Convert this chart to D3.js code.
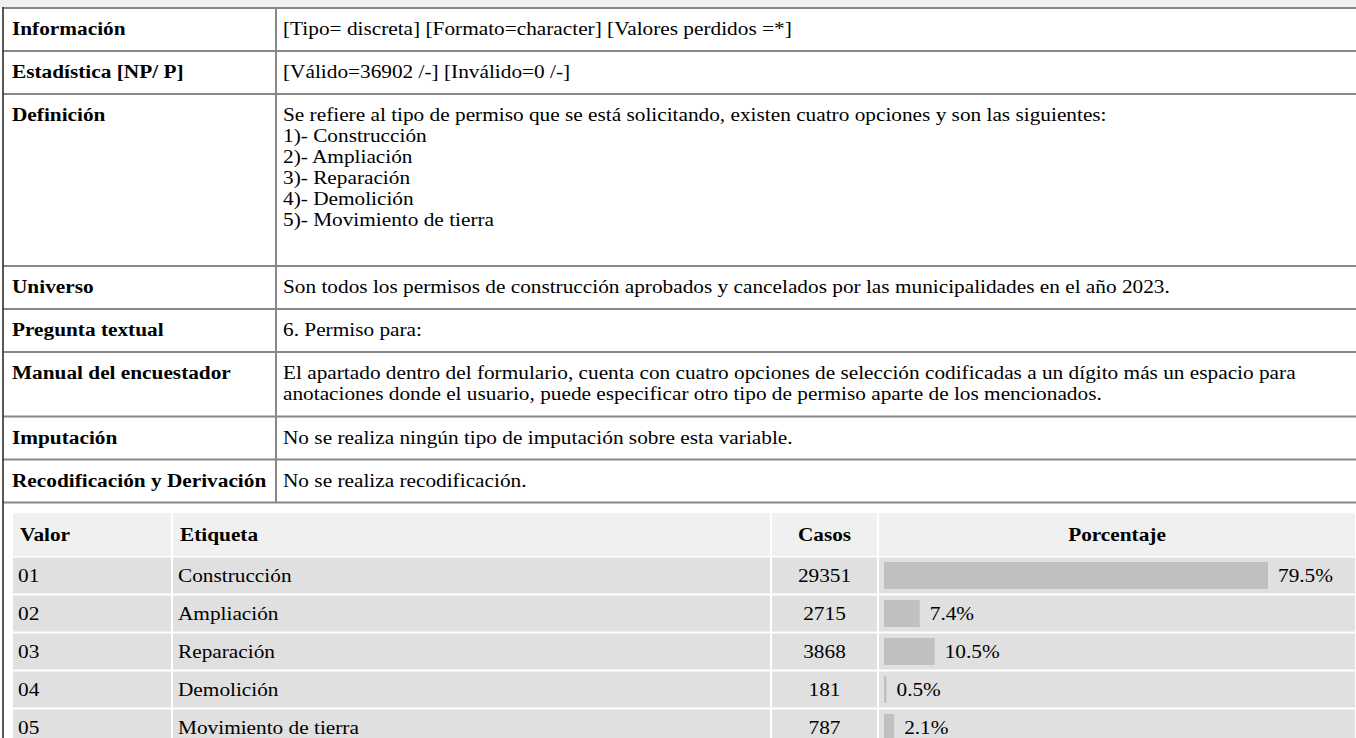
<!DOCTYPE html>
<html><head><meta charset="utf-8">
<script src="https://cdn.jsdelivr.net/npm/d3@7"></script>
<style>
body{margin:0;background:#fff;}
svg{display:block;}
text{font-family:"Liberation Serif","Times New Roman",serif;font-size:18.9px;fill:#000;}
</style>
</head><body>
<svg id="c" width="1356" height="738"></svg>
<script>
// ---- data ----
const infoLabels = ["Información","Estadística [NP/ P]","Definición","Universo","Pregunta textual","Manual del encuestador","Imputación","Recodificación y Derivación"];
const infoTexts = [
  ["[Tipo= discreta] [Formato=character] [Valores perdidos =*]"],
  ["[Válido=36902 /-] [Inválido=0 /-]"],
  ["Se refiere al tipo de permiso que se está solicitando, existen cuatro opciones y son las siguientes:","1)- Construcción","2)- Ampliación","3)- Reparación","4)- Demolición","5)- Movimiento de tierra",""],
  ["Son todos los permisos de construcción aprobados y cancelados por las municipalidades en el año 2023."],
  ["6. Permiso para:"],
  ["El apartado dentro del formulario, cuenta con cuatro opciones de selección codificadas a un dígito más un espacio para","anotaciones donde el usuario, puede especificar otro tipo de permiso aparte de los mencionados."],
  ["No se realiza ningún tipo de imputación sobre esta variable."],
  ["No se realiza recodificación."]
];
const freqHeaders = ["Valor","Etiqueta","Casos","Porcentaje"];
const valores = ["01","02","03","04","05"];
const etiquetas = ["Construcción","Ampliación","Reparación","Demolición","Movimiento de tierra"];
const casos = [29351,2715,3868,181,787];
const porcentajes = [79.5,7.4,10.5,0.5,2.1];

// ---- layout ----
const W = 1356, H = 738;
const SX = 1.127; // horizontal glyph stretch
const svg = d3.select("#c");
const lineH = 21, rowPad = 21.5, rowLine = 21.5;
const topY = 8, divX = 276, leftX = 3;

function txt(g, x, y, s, opts){
  opts = opts || {};
  const t = g.append("text").attr("transform",`translate(${x},${y}) scale(${SX},1)`).text(s);
  if(opts.bold) t.attr("font-weight","bold");
  if(opts.anchor) t.attr("text-anchor",opts.anchor);
  return t;
}

svg.append("rect").attr("x",0).attr("y",0).attr("width",W).attr("height",topY).attr("fill","#f0f0f0");

// info table rows
let y = topY;
const rows = infoLabels.map((lab,i)=>{
  const h = rowPad + rowLine*infoTexts[i].length;
  const r = {lab, lines: infoTexts[i].filter(t=>t!==""), y0: y, h};
  y += h;
  return r;
});
const infoBottom = y;

const gInfo = svg.append("g");
rows.forEach(r=>{
  txt(gInfo, 12, r.y0+27, r.lab, {bold:true});
  r.lines.forEach((s,j)=> txt(gInfo, 283, r.y0+27+lineH*j, s));
});
const hl = [topY].concat(rows.map(r=>r.y0+r.h));
gInfo.selectAll("line.h").data(hl).join("line")
  .attr("x1",leftX).attr("x2",W).attr("y1",d=>d).attr("y2",d=>d)
  .attr("stroke","#888").attr("stroke-width",2);
gInfo.append("line").attr("x1",divX).attr("x2",divX).attr("y1",topY).attr("y2",infoBottom)
  .attr("stroke","#888").attr("stroke-width",2);

// ---- frequency table ----
const colEdges = [12,172,771,878,W];
const headY = infoBottom + 10.5, headH = 43, rowH = 38;
const gF = svg.append("g");
for(let c=0;c<4;c++){
  gF.append("rect").attr("x",colEdges[c]+1).attr("y",headY)
    .attr("width",colEdges[c+1]-colEdges[c]-2).attr("height",headH).attr("fill","#f0f0f0");
}
const yRow = d3.scaleBand().domain(valores).range([headY+headH, headY+headH+rowH*valores.length]);
valores.forEach(v=>{
  for(let c=0;c<4;c++){
    gF.append("rect").attr("x",colEdges[c]+1).attr("y",yRow(v)+1.5)
      .attr("width",colEdges[c+1]-colEdges[c]-2).attr("height",rowH-2).attr("fill","#e0e0e0");
  }
});
const hb = headY + headH/2 + 6.5;
txt(gF, 20, hb, freqHeaders[0], {bold:true});
txt(gF, 180, hb, freqHeaders[1], {bold:true});
txt(gF, (colEdges[2]+colEdges[3])/2, hb, freqHeaders[2], {bold:true, anchor:"middle"});
txt(gF, (colEdges[3]+colEdges[4])/2, hb, freqHeaders[3], {bold:true, anchor:"middle"});

const xPct = d3.scaleLinear().domain([0,100]).range([0,483]);
const barX = 884;
valores.forEach((v,i)=>{
  const cy = yRow(v) + 1.5 + (rowH-2)/2;
  txt(gF, 18, cy+6.5, v);
  txt(gF, 178, cy+6.5, etiquetas[i]);
  txt(gF, (colEdges[2]+colEdges[3])/2, cy+6.5, String(casos[i]), {anchor:"middle"});
  const w = Math.max(2.5, xPct(porcentajes[i]));
  gF.append("rect").attr("x",barX).attr("y",cy-13.5).attr("width",w).attr("height",27).attr("fill","#c0c0c0");
  txt(gF, barX+w+10, cy+6.5, porcentajes[i].toFixed(1)+"%");
});

// left border
svg.append("line").attr("x1",leftX).attr("x2",leftX).attr("y1",topY-1).attr("y2",H)
  .attr("stroke","#222").attr("stroke-width",1.5);
</script>
</body></html>
